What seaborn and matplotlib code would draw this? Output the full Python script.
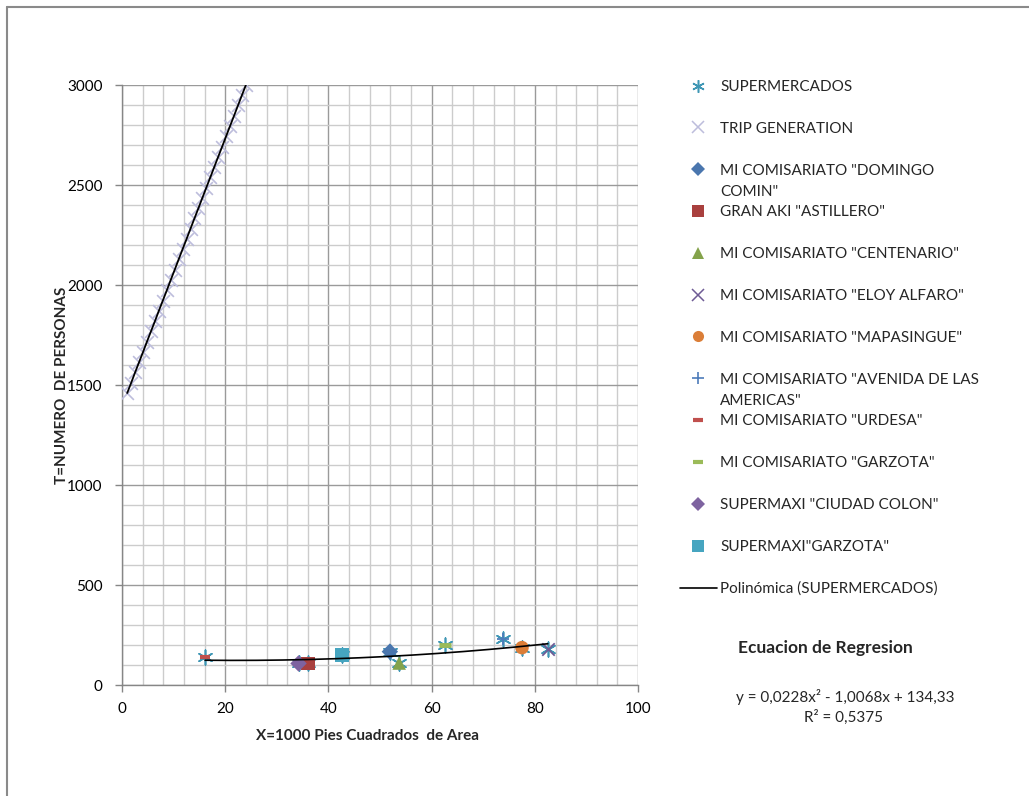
import numpy as np
import pandas as pd
import matplotlib
matplotlib.use("Agg")
import matplotlib.pyplot as plt
import seaborn as sns
from matplotlib.lines import Line2D
from matplotlib.ticker import MultipleLocator

# ---------------- data ----------------
store_names = [
    'MI COMISARIATO "DOMINGO COMIN"',
    'GRAN AKI "ASTILLERO"',
    'MI COMISARIATO "CENTENARIO"',
    'MI COMISARIATO "ELOY ALFARO"',
    'MI COMISARIATO "MAPASINGUE"',
    'MI COMISARIATO "AVENIDA DE LAS AMERICAS"',
    'MI COMISARIATO "URDESA"',
    'MI COMISARIATO "GARZOTA"',
    'SUPERMAXI "CIUDAD COLON"',
    'SUPERMAXI"GARZOTA"',
]
store_area = [51.9, 36.0, 53.7, 82.5, 77.5, 73.9, 16.1, 62.6, 34.2, 42.6]
store_trips = [167, 108, 110, 181, 187, 232, 141, 200, 108, 150]

trip_area = [1.0, 1.77, 2.53, 3.3, 4.07, 4.83, 5.6, 6.37, 7.13, 7.9, 8.67,
             9.43, 10.2, 10.97, 11.73, 12.5, 13.27, 14.03, 14.8, 15.57, 16.33,
             17.1, 17.87, 18.63, 19.4, 20.17, 20.93, 21.7, 22.47, 23.23, 24.0]
trip_persons = [1460, 1511, 1563, 1614, 1665, 1717, 1768, 1819, 1871, 1922, 1973,
                2025, 2076, 2128, 2179, 2230, 2282, 2333, 2384, 2436, 2487,
                2538, 2590, 2641, 2692, 2744, 2795, 2846, 2898, 2949, 3000]

poly_coef = [0.0228, -1.0068, 134.33]   # y = a x^2 + b x + c
r_squared = "0,5375"

x_ticks = [0, 20, 40, 60, 80, 100]
y_ticks = [0, 500, 1000, 1500, 2000, 2500, 3000]

# ---------------- styles ----------------
store_markers = ['D', 's', '^', 'x', 'o', '+', '_', '_', 'D', 's']
store_colors = ['#4A76AE', '#A9403E', '#84A34B', '#6E5B95', '#DB7E38',
                '#4D7CBA', '#C0504D', '#9BBB59', '#7E63A0', '#46A5C0']
store_sizes = [70, 95, 95, 80, 95, 85, 45, 70, 70, 95]
store_lw = [0, 0, 0, 1.3, 0, 1.3, 3, 3.5, 0, 0]
asterisk = (6, 2, 0)
sup_color = '#3F97B5'
trip_color = '#BDBDDC'

sns.set_theme(style='white')
plt.rcParams['font.family'] = ['Lato', 'DejaVu Sans']
FS = 11

fig = plt.figure(figsize=(10.29, 7.96), dpi=100)
ax = fig.add_axes([0.1186, 0.1394, 0.5015, 0.7538])

df_st = pd.DataFrame({'area': store_area, 'trips': store_trips, 'name': store_names})
df_tr = pd.DataFrame({'area': trip_area, 'persons': trip_persons})

# SUPERMERCADOS (all stores, asterisks)
sns.scatterplot(data=df_st, x='area', y='trips', marker=asterisk, color=sup_color,
                s=110, linewidth=1.2, ax=ax, legend=False, zorder=3)
# TRIP GENERATION
sns.scatterplot(data=df_tr, x='area', y='persons', marker='x', color=trip_color,
                s=85, linewidth=1.2, ax=ax, legend=False, zorder=3)
sns.lineplot(data=df_tr, x='area', y='persons', color='black', lw=1.3, ax=ax,
             legend=False, zorder=5)
# individual stores
for i in range(len(store_names)):
    m = store_markers[i]
    kw = dict(marker=m, color=store_colors[i], s=store_sizes[i], ax=ax,
              legend=False, zorder=4)
    if m in ('x', '+', '_'):
        kw['linewidth'] = store_lw[i]
    else:
        kw['edgecolor'] = 'none'
    sns.scatterplot(x=[store_area[i]], y=[store_trips[i]], **kw)

# polynomial trendline
xs = np.linspace(min(store_area), max(store_area), 200)
ys = np.polyval(poly_coef, xs)
sns.lineplot(x=xs, y=ys, color='black', lw=1.2, ax=ax, legend=False, zorder=6)

# ---------------- axes ----------------
ax.set_xlim(0, 100)
ax.set_ylim(0, 3000)
ax.set_xticks(x_ticks)
ax.set_yticks(y_ticks)
ax.xaxis.set_minor_locator(MultipleLocator(4))
ax.yaxis.set_minor_locator(MultipleLocator(100))
ax.grid(which='minor', color='#cccccc', lw=1)
ax.grid(which='major', color='#9a9a9a', lw=1)
ax.set_axisbelow(True)
for s in ['top', 'right']:
    ax.spines[s].set_visible(False)
for s in ['left', 'bottom']:
    ax.spines[s].set_color('#868686')
    ax.spines[s].set_linewidth(1)
ax.tick_params(which='major', direction='out', length=5, width=1, color='#868686',
               labelsize=FS, labelcolor='black', left=True, bottom=True)
ax.tick_params(axis='y', pad=9)
ax.tick_params(axis='x', pad=7)
ax.tick_params(which='minor', length=0)

ax.set_xlabel('X=1000 Pies Cuadrados  de Area', fontsize=FS, fontweight='bold')
ax.set_ylabel('T=NUMERO  DE PERSONAS', fontsize=FS, fontweight='bold')
ax.xaxis.set_label_coords(0.475, -0.073)
ax.yaxis.set_label_coords(-0.102, 0.5)
ax.xaxis.label.set_va('top')

# ---------------- legend ----------------
handles = [
    Line2D([], [], marker=asterisk, color=sup_color, ls='None', ms=9, mew=1.1),
    Line2D([], [], marker='x', color=trip_color, ls='None', ms=8, mew=1.1),
]
for i in range(len(store_names)):
    m = store_markers[i]
    ms = {'D': 7, 's': 8, '^': 8, 'x': 8, 'o': 8, '+': 9, '_': 7.5}[m]
    mew = {'x': 1.1, '+': 1.2, '_': 3}.get(m, 0)
    handles.append(Line2D([], [], marker=m, color=store_colors[i], ls='None',
                          ms=ms, mew=mew))
handles.append(Line2D([], [], color='black', lw=1.2))

wrap = {'MI COMISARIATO "DOMINGO COMIN"': ('MI COMISARIATO "DOMINGO', 'COMIN"'),
        'MI COMISARIATO "AVENIDA DE LAS AMERICAS"': ('MI COMISARIATO "AVENIDA DE LAS', 'AMERICAS"')}
all_labels = ['SUPERMERCADOS', 'TRIP GENERATION'] + store_names + ['Polinómica (SUPERMERCADOS)']
first_lines = [wrap[l][0] if l in wrap else l for l in all_labels]

leg = fig.legend(handles, first_lines, loc='upper left',
                 bbox_to_anchor=(680 / 1029, 1 - 80 / 796),
                 frameon=False, fontsize=FS, borderpad=0, borderaxespad=0,
                 handlelength=2.42, handletextpad=0.2, labelspacing=1.82)

fig.canvas.draw()
W, H = fig.bbox.width, fig.bbox.height
texts = leg.get_texts()
for idx, lab in enumerate(all_labels):
    if lab in wrap:
        bb = texts[idx].get_window_extent()
        yc = (bb.y0 + bb.y1) / 2 - 21
        fig.text(bb.x0 / W, yc / H, wrap[lab][1], fontsize=FS, va='center', ha='left')

# regression annotation
fig.text(825 / 1029, 1 - 648 / 796, 'Ecuacion de Regresion', fontsize=12.5,
         fontweight='bold', ha='center', va='center')
fig.text(845 / 1029, 1 - 697 / 796, 'y = 0,0228x² - 1,0068x + 134,33', fontsize=FS,
         ha='center', va='center')
fig.text(843 / 1029, 1 - 717 / 796, 'R² = ' + r_squared, fontsize=FS,
         ha='center', va='center')

# outer chart border (top and left visible)
fig.add_artist(Line2D([7 / 1029, 7 / 1029], [0, 1 - 7 / 796], color='#8a8a8a', lw=1.5,
                      transform=fig.transFigure))
fig.add_artist(Line2D([7 / 1029, 1], [1 - 7 / 796, 1 - 7 / 796], color='#8a8a8a', lw=1.5,
                      transform=fig.transFigure))

fig.savefig('out.png', dpi=100)
